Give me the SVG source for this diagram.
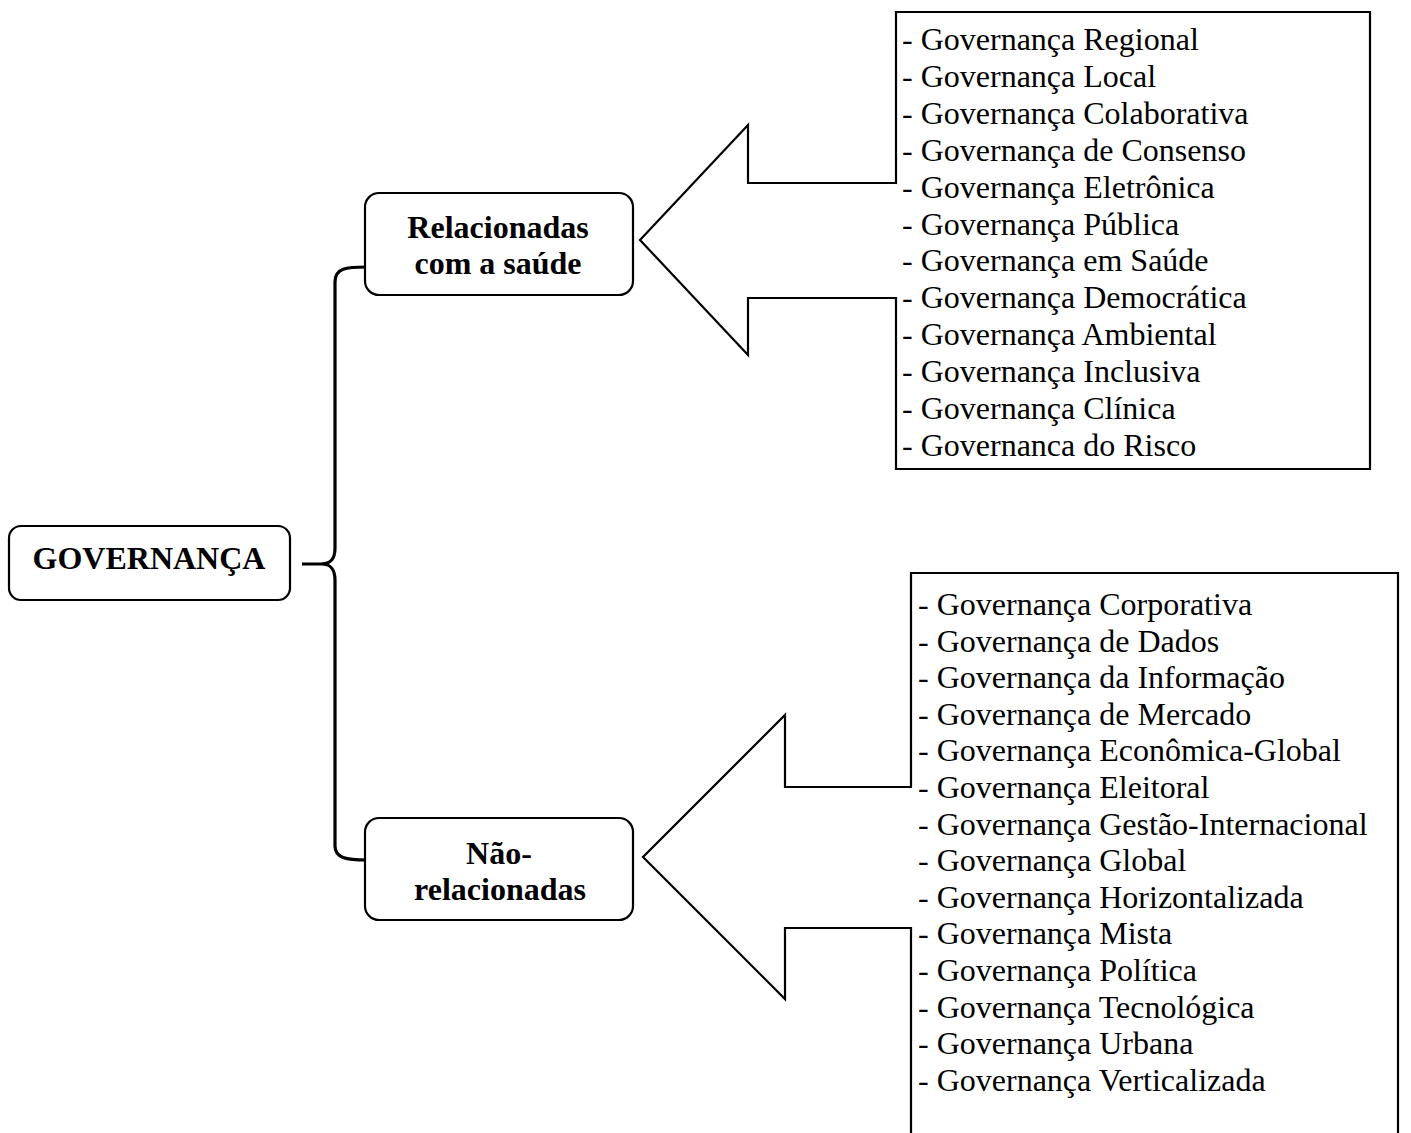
<svg xmlns="http://www.w3.org/2000/svg" width="1411" height="1133" viewBox="0 0 1411 1133">
<style>
.box{fill:#fff;stroke:#000;stroke-width:2.2}
.call{fill:none;stroke:#000;stroke-width:2.2;stroke-linejoin:miter}
.h{font-family:"Liberation Serif","Times New Roman",serif;font-size:32px;font-weight:bold;text-anchor:middle;fill:#000}
.t{font-family:"Liberation Serif","Times New Roman",serif;font-size:32px;fill:#000}
.brace{fill:none;stroke:#000;stroke-width:3.2;stroke-linecap:butt}
</style>
<rect width="1411" height="1133" fill="#fff"/>
<g id="connectors">
<path class="brace" d="M367,267 C346,267 335,268 335,282 L335,548 C335,559 331,564 321,564 L302,564 M321,564 C331,564 335,569 335,580 L335,846 C335,858 346,860 367,860"/>
</g>
<g id="node-governanca">
<rect class="box" x="9" y="526" width="281" height="74" rx="12"/>
<text class="h" x="149" y="569">GOVERNANÇA</text>
</g>
<g id="node-relacionadas">
<rect class="box" x="365" y="193" width="268" height="102" rx="14"/>
<text class="h" x="498" y="238">Relacionadas</text>
<text class="h" x="498" y="274">com a saúde</text>
</g>
<g id="node-nao-relacionadas">
<rect class="box" x="365" y="818" width="268" height="102" rx="14"/>
<text class="h" x="499" y="864">Não-</text>
<text class="h" x="500" y="900">relacionadas</text>
</g>
<g id="list-relacionadas">
<path class="call" d="M896,183 L896,12 L1370,12 L1370,469 L896,469 L896,298 L748,298 L748,355 L640,240 L748,125 L748,183 Z"/>
<text class="t" x="902" y="50">- Governança Regional</text>
<text class="t" x="902" y="86.9">- Governança Local</text>
<text class="t" x="902" y="123.8">- Governança Colaborativa</text>
<text class="t" x="902" y="160.7">- Governança de Consenso</text>
<text class="t" x="902" y="197.6">- Governança Eletrônica</text>
<text class="t" x="902" y="234.5">- Governança Pública</text>
<text class="t" x="902" y="271.4">- Governança em Saúde</text>
<text class="t" x="902" y="308.3">- Governança Democrática</text>
<text class="t" x="902" y="345.2">- Governança Ambiental</text>
<text class="t" x="902" y="382.1">- Governança Inclusiva</text>
<text class="t" x="902" y="419">- Governança Clínica</text>
<text class="t" x="902" y="455.9">- Governanca do Risco</text>
</g>
<g id="list-nao-relacionadas">
<path class="call" d="M911,787 L911,573 L1398,573 L1398,1145 L911,1145 L911,928 L785,928 L785,999 L643,857 L785,715 L785,787 Z"/>
<text class="t" x="918" y="615">- Governança Corporativa</text>
<text class="t" x="918" y="651.6">- Governança de Dados</text>
<text class="t" x="918" y="688.2">- Governança da Informação</text>
<text class="t" x="918" y="724.8">- Governança de Mercado</text>
<text class="t" x="918" y="761.4">- Governança Econômica-Global</text>
<text class="t" x="918" y="798">- Governança Eleitoral</text>
<text class="t" x="918" y="834.6">- Governança Gestão-Internacional</text>
<text class="t" x="918" y="871.2">- Governança Global</text>
<text class="t" x="918" y="907.8">- Governança Horizontalizada</text>
<text class="t" x="918" y="944.4">- Governança Mista</text>
<text class="t" x="918" y="981">- Governança Política</text>
<text class="t" x="918" y="1017.6">- Governança Tecnológica</text>
<text class="t" x="918" y="1054.2">- Governança Urbana</text>
<text class="t" x="918" y="1090.8">- Governança Verticalizada</text>
</g>
</svg>
